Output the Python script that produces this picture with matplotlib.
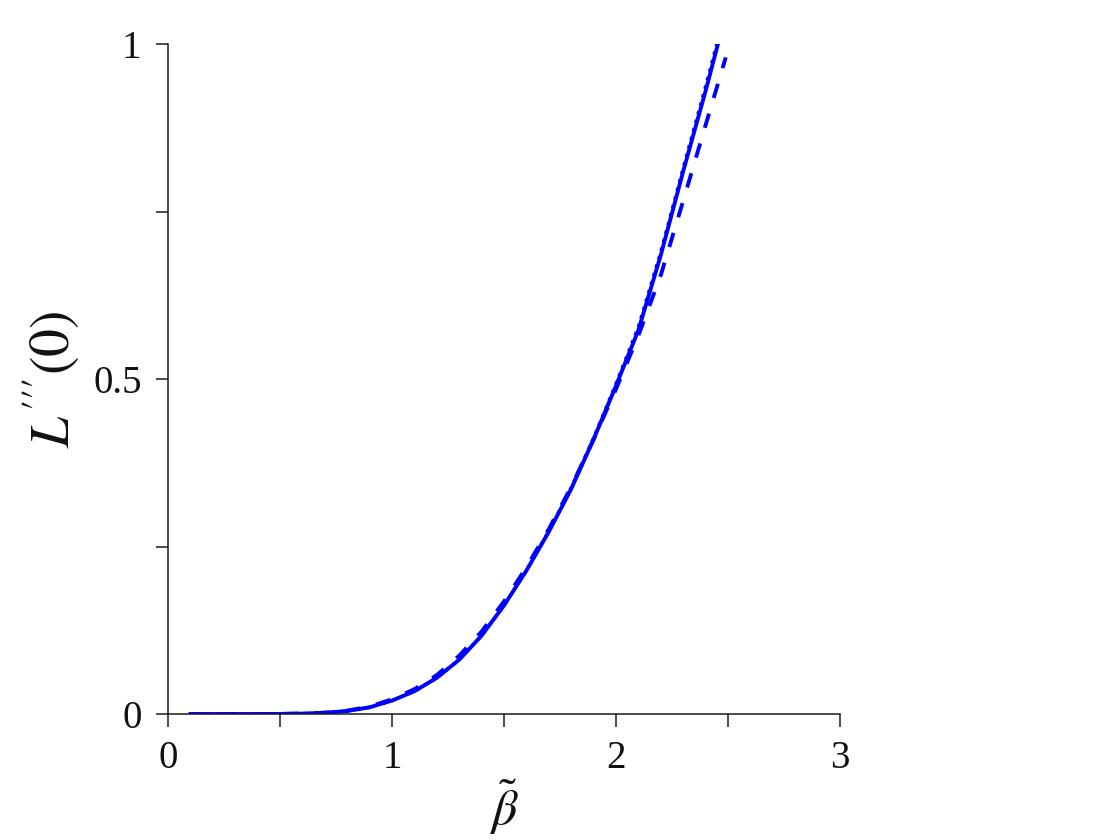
import matplotlib
matplotlib.use("Agg")
import matplotlib.pyplot as plt
from matplotlib.ticker import MultipleLocator

plt.rcParams['font.family'] = ['Liberation Serif', 'DejaVu Serif']
plt.rcParams['mathtext.fontset'] = 'stix'

beta_solid = [0.1, 0.2, 0.3, 0.4, 0.5, 0.6, 0.7, 0.8, 0.9, 1.0, 1.1, 1.2, 1.3,
              1.4, 1.5, 1.6, 1.7, 1.8, 1.9, 2.0, 2.1, 2.2, 2.3, 2.4, 2.455]
L_solid = [0.0, 0.0, 0.0, 0.0, 0.0001, 0.0006, 0.0018, 0.0045, 0.010, 0.020,
           0.034, 0.054, 0.081, 0.117, 0.162, 0.214, 0.272, 0.336, 0.41, 0.49,
           0.573, 0.685, 0.81, 0.93, 1.0]

beta_dotted = [0.1, 0.2, 0.3, 0.4, 0.5, 0.6, 0.7, 0.8, 0.9, 1.0, 1.1, 1.2, 1.3,
               1.4, 1.5, 1.6, 1.7, 1.8, 1.9, 2.0, 2.1, 2.2, 2.3, 2.4, 2.45]
L_dotted = [0.0, 0.0, 0.0, 0.0, 0.0001, 0.0006, 0.0018, 0.0045, 0.010, 0.020,
            0.034, 0.054, 0.081, 0.117, 0.162, 0.214, 0.273, 0.338, 0.412, 0.493,
            0.578, 0.69, 0.815, 0.937, 1.0]

beta_dashed = [0.1, 0.2, 0.3, 0.4, 0.5, 0.6, 0.7, 0.8, 0.9, 1.0, 1.1, 1.2, 1.3,
               1.4, 1.5, 1.6, 1.7, 1.8, 1.9, 2.0, 2.1, 2.2, 2.3, 2.4, 2.49]
L_dashed = [0.0, 0.0, 0.0, 0.0, 0.0001, 0.0007, 0.002, 0.005, 0.011, 0.022,
            0.037, 0.058, 0.087, 0.123, 0.168, 0.219, 0.276, 0.339, 0.41, 0.485,
            0.565, 0.655, 0.766, 0.879, 0.98]

xticks = [0, 1, 2, 3]
yticks = [0, 0.5, 1]
yticklabels = ['0', '0.5', '1']

fig = plt.figure(figsize=(11.2, 8.4), dpi=100)
ax = fig.add_axes([0.15, 0.15, 0.60, 0.7976])

blue = (0, 0, 1)
ax.plot(beta_solid, L_solid, color=blue, lw=2.8, ls='-')
ax.plot(beta_dotted, L_dotted, color=blue, lw=2.4, ls=':')
ax.plot(beta_dashed, L_dashed, color=blue, lw=2.8, ls=(0, (3.8, 4.2)))

ax.set_xlim(0, 3)
ax.set_ylim(0, 1)
ax.set_xticks(xticks)
ax.set_xticklabels([str(t) for t in xticks])
ax.set_yticks(yticks)
ax.set_yticklabels(yticklabels)
ax.xaxis.set_minor_locator(MultipleLocator(0.5))
ax.yaxis.set_minor_locator(MultipleLocator(0.25))

for s in ['top', 'right']:
    ax.spines[s].set_visible(False)
for s in ['left', 'bottom']:
    ax.spines[s].set_linewidth(1.1)
    ax.spines[s].set_color('#1a1a1a')

ax.tick_params(which='both', direction='out', length=9, width=1.1, color='#1a1a1a')
ax.tick_params(axis='x', which='major', labelsize=28, pad=10, labelcolor='#111111')
ax.tick_params(axis='y', which='major', labelsize=28, pad=10, labelcolor='#111111')

ax.set_ylabel(r"$L'''(0)$", fontsize=40, labelpad=8, color='#111111')
ax.set_xlabel(r"$\tilde{\beta}$", fontsize=36, labelpad=0, color='#111111')

fig.savefig("out.png", dpi=100)
